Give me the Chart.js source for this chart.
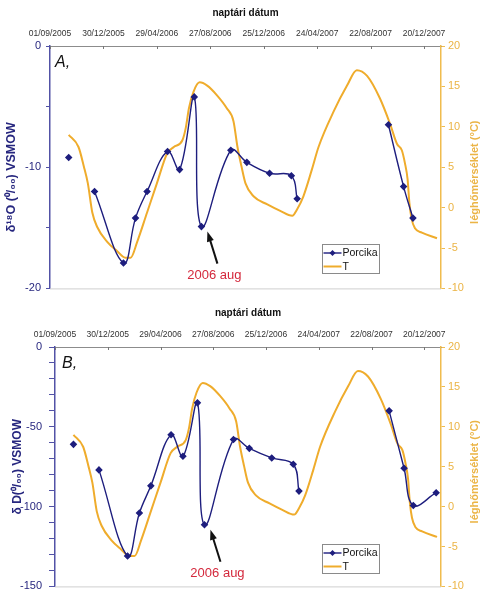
<!DOCTYPE html>
<html>
<head>
<meta charset="utf-8">
<script src="https://cdn.jsdelivr.net/npm/chart.js@4.4.1/dist/chart.umd.min.js"></script>
<style>
  body { margin: 0; background: #fff; }
  canvas { display: block; }
</style>
</head>
<body>
<canvas id="chartA" width="482" height="300"></canvas>
<canvas id="chartB" width="482" height="300"></canvas>
<script>
// date axis: days counted from 01/09/2005
const dateTickDays = [0, 120, 240, 360, 480, 600, 720, 840];
const dateTickLabels = ['01/09/2005', '30/12/2005', '29/04/2006', '27/08/2006',
                        '25/12/2006', '24/04/2007', '22/08/2007', '20/12/2007'];

// Porcika samples (null = no value, line is broken there)
const sampleDays = [42, 71, 100, 165, 192, 218, 264, 291, 324, 340, 406, 442, 493, 542, 555, 657, 760, 794, 815, 867];
const porcikaO18 = [-9.2, null, -12.0, -17.9, -14.2, -12.0, -8.7, -10.2, -4.2, -14.9, -8.6, -9.6, -10.5, -10.7, -12.6, null, -6.5, -11.6, -14.2, null];
const porcikaD   = [-61, null, -77, -131, -104, -87, -55, -68.5, -35, -111.4, -58, -63.5, -69.5, -73.5, -90.3, null, -40, -76, -99.3, -91.3];
const augSampleDay = 340;

// air temperature (°C)
const tempDays = [42, 64, 76, 85, 95, 106, 128, 151, 169, 181, 196, 218, 240, 263, 278, 297, 305, 312, 322, 336,
                  353, 375, 397, 412, 421, 430, 439, 457, 488, 517, 544, 555, 569, 588, 603, 637, 667, 689, 712, 741,
                  764, 779, 790, 797, 803, 807, 812, 820, 835, 869];
const tempValues = [9.0, 7.5, 5.1, 3.0, -0.6, -2.4, -4.2, -5.4, -6.2, -6.2, -4.2, -0.6, 3.0, 6.7, 7.5, 8.3, 9.9, 12.3, 14.3, 15.5,
                    15.1, 13.9, 12.3, 10.7, 7.5, 5.1, 3.0, 1.4, 0.4, -0.4, -1.0, -0.2, 1.4, 4.7, 7.5, 11.9, 15.1, 17.0, 16.3, 13.5,
                    10.3, 7.9, 7.1, 5.5, 3.5, 0.6, -1.4, -2.6, -3.1, -3.8];

const xTitle = 'naptári dátum';
const tempTitle = 'léghőmérséklet (°C)';

const NAVY = '#1e1e7e';
const NAVY_TXT = '#27277f';
const BLUE_AXIS = '#5252a6';
const ORANGE = '#efac2c';
const ORANGE_AXIS = '#f0bc4e';
const ORANGE_TXT = '#ebb445';
const FONT = '"Liberation Sans", Arial, sans-serif';

Chart.defaults.font.family = FONT;

function drawUpright(ctx, text, x, y, font, color) {
  ctx.save();
  ctx.translate(x, y);
  ctx.rotate(-Math.PI / 2);
  ctx.font = font;
  ctx.fillStyle = color;
  ctx.textAlign = 'center';
  ctx.textBaseline = 'middle';
  ctx.fillText(text, 0, 0);
  ctx.restore();
}

// extra drawing: frame line, inner ticks, titles, panel letter, arrow note, legend
const decor = {
  id: 'decor',
  afterDraw(chart, args, o) {
    const ctx = chart.ctx, a = chart.chartArea, sx = chart.scales.x;
    const midY = (a.top + a.bottom) / 2;
    ctx.save();
    ctx.lineWidth = 1;
    ctx.strokeStyle = '#cfcfcf';
    ctx.beginPath();
    ctx.moveTo(a.left, a.bottom + 0.5);
    ctx.lineTo(a.right, a.bottom + 0.5);
    ctx.stroke();

    ctx.strokeStyle = '#777';
    dateTickDays.forEach(d => {
      const x = Math.round(sx.getPixelForValue(d)) + 0.5;
      ctx.beginPath();
      ctx.moveTo(x, a.top);
      ctx.lineTo(x, a.top + 3);
      ctx.stroke();
    });

    ctx.fillStyle = '#111';
    ctx.font = 'italic 16px ' + FONT;
    ctx.textAlign = 'left';
    ctx.textBaseline = 'alphabetic';
    ctx.fillText(o.letter, a.left + o.letterDx, a.top + 21);

    drawUpright(ctx, o.yTitle, o.titleX, midY + o.titleDy, 'bold ' + o.titleSize + 'px ' + FONT, NAVY_TXT);
    drawUpright(ctx, tempTitle, 475, midY + 5, 'bold 11px ' + FONT, ORANGE_TXT);

    // arrow pointing at the August 2006 sample
    const p = chart.getDatasetMeta(0).data[sampleDays.indexOf(augSampleDay)];
    const hx = p.x + 6, hy = p.y + 5, tx = hx + 10, ty = hy + 32;
    const ang = Math.atan2(hy - ty, hx - tx);
    ctx.strokeStyle = '#111';
    ctx.fillStyle = '#111';
    ctx.lineWidth = 2;
    ctx.beginPath();
    ctx.moveTo(tx, ty);
    ctx.lineTo(hx - 6 * Math.cos(ang), hy - 6 * Math.sin(ang));
    ctx.stroke();
    ctx.beginPath();
    ctx.moveTo(hx, hy);
    ctx.lineTo(hx - 10 * Math.cos(ang) + 3.5 * Math.sin(ang), hy - 10 * Math.sin(ang) - 3.5 * Math.cos(ang));
    ctx.lineTo(hx - 10 * Math.cos(ang) - 3.5 * Math.sin(ang), hy - 10 * Math.sin(ang) + 3.5 * Math.cos(ang));
    ctx.closePath();
    ctx.fill();
    ctx.fillStyle = '#d4283c';
    ctx.font = '13px ' + FONT;
    ctx.textAlign = 'center';
    ctx.fillText('2006 aug', hx + 7, ty + 15);

    // legend box
    const lx = 322.5, ly = 244.5;
    ctx.lineWidth = 1;
    ctx.strokeStyle = '#8a8a8a';
    ctx.fillStyle = '#fff';
    ctx.fillRect(lx, ly, 57, 29);
    ctx.strokeRect(lx, ly, 57, 29);
    ctx.font = '10.5px ' + FONT;
    ctx.textAlign = 'left';
    ctx.textBaseline = 'middle';
    chart.data.datasets.forEach((ds, i) => {
      const y = ly + 8.5 + i * 13.5;
      ctx.strokeStyle = ds.borderColor;
      ctx.lineWidth = ds.borderWidth;
      ctx.beginPath();
      ctx.moveTo(lx + 1, y);
      ctx.lineTo(lx + 19, y);
      ctx.stroke();
      if (ds.pointRadius) {
        ctx.fillStyle = ds.borderColor;
        ctx.beginPath();
        ctx.moveTo(lx + 10, y - 3);
        ctx.lineTo(lx + 13, y);
        ctx.lineTo(lx + 10, y + 3);
        ctx.lineTo(lx + 7, y);
        ctx.closePath();
        ctx.fill();
      }
      ctx.fillStyle = '#111';
      ctx.fillText(ds.label, lx + 20, y + 0.5);
    });
    ctx.restore();
  }
};

function makeChart(id, cfg) {
  const ctx = document.getElementById(id).getContext('2d');
  return new Chart(ctx, {
    type: 'line',
    data: {
      datasets: [{
        label: 'Porcika',
        data: sampleDays.map((d, i) => ({ x: d, y: cfg.values[i] })),
        yAxisID: 'y',
        borderColor: NAVY,
        backgroundColor: NAVY,
        borderWidth: 1.4,
        pointStyle: 'rectRot',
        pointRadius: 2.8,
        tension: 0.4,
        spanGaps: false
      }, {
        label: 'T',
        data: tempDays.map((d, i) => ({ x: d, y: tempValues[i] })),
        yAxisID: 'yR',
        borderColor: ORANGE,
        borderWidth: 2,
        pointRadius: 0,
        cubicInterpolationMode: 'monotone'
      }]
    },
    options: {
      responsive: false,
      animation: false,
      layout: { padding: { bottom: 5 } },
      plugins: {
        legend: { display: false },
        tooltip: { enabled: false },
        decor: {
          letter: cfg.letter, letterDx: cfg.letterDx, yTitle: cfg.yTitle,
          titleX: cfg.titleX, titleDy: cfg.titleDy, titleSize: cfg.titleSize
        }
      },
      scales: {
        x: {
          type: 'linear',
          position: 'top',
          min: 0,
          max: 878,
          bounds: 'data',
          afterBuildTicks: s => { s.ticks = dateTickDays.map(v => ({ value: v })); },
          afterFit: s => { s.height = cfg.top; },
          ticks: {
            callback: (v, i) => dateTickLabels[i],
            font: { size: 8.5 },
            color: '#333',
            padding: 7,
            maxRotation: 0,
            autoSkip: false
          },
          grid: { drawOnChartArea: false, drawTicks: false },
          border: { color: '#8c8c8c' },
          title: {
            display: true,
            text: xTitle,
            color: '#111',
            font: { size: 10, weight: 'bold' },
            padding: { top: 7, bottom: 0 }
          }
        },
        y: {
          position: 'left',
          min: cfg.yMin,
          max: 0,
          afterFit: s => { s.width = cfg.left; },
          ticks: {
            stepSize: cfg.yStep,
            autoSkip: false,
            callback: v => (v % cfg.yLabelStep === 0 ? v : ''),
            color: NAVY_TXT,
            font: { size: 11 },
            padding: cfg.yPad
          },
          grid: { drawOnChartArea: false, tickLength: cfg.tickLen, color: BLUE_AXIS },
          border: { color: BLUE_AXIS, width: 1.5 }
        },
        yR: {
          position: 'right',
          min: -10,
          max: 20,
          afterFit: s => { s.width = 41; },
          ticks: { stepSize: 5, color: ORANGE_TXT, font: { size: 11 }, padding: 3 },
          grid: { drawOnChartArea: false, tickLength: 4, color: ORANGE_AXIS },
          border: { color: ORANGE_AXIS, width: 1.5 }
        }
      }
    },
    plugins: [decor]
  });
}

makeChart('chartA', {
  values: porcikaO18, yTitle: 'δ¹⁸O (⁰/₀₀) VSMOW', letter: 'A,', letterDx: 5,
  titleX: 12, titleDy: 10, titleSize: 12.5,
  left: 50, top: 46, yMin: -20, yStep: 5, yLabelStep: 10, tickLen: 4, yPad: 5
});
makeChart('chartB', {
  values: porcikaD, yTitle: 'δ D(⁰/₀₀) VSMOW', letter: 'B,', letterDx: 7,
  titleX: 18, titleDy: 0, titleSize: 12,
  left: 55, top: 47, yMin: -150, yStep: 10, yLabelStep: 50, tickLen: 6, yPad: 7
});
</script>
</body>
</html>
